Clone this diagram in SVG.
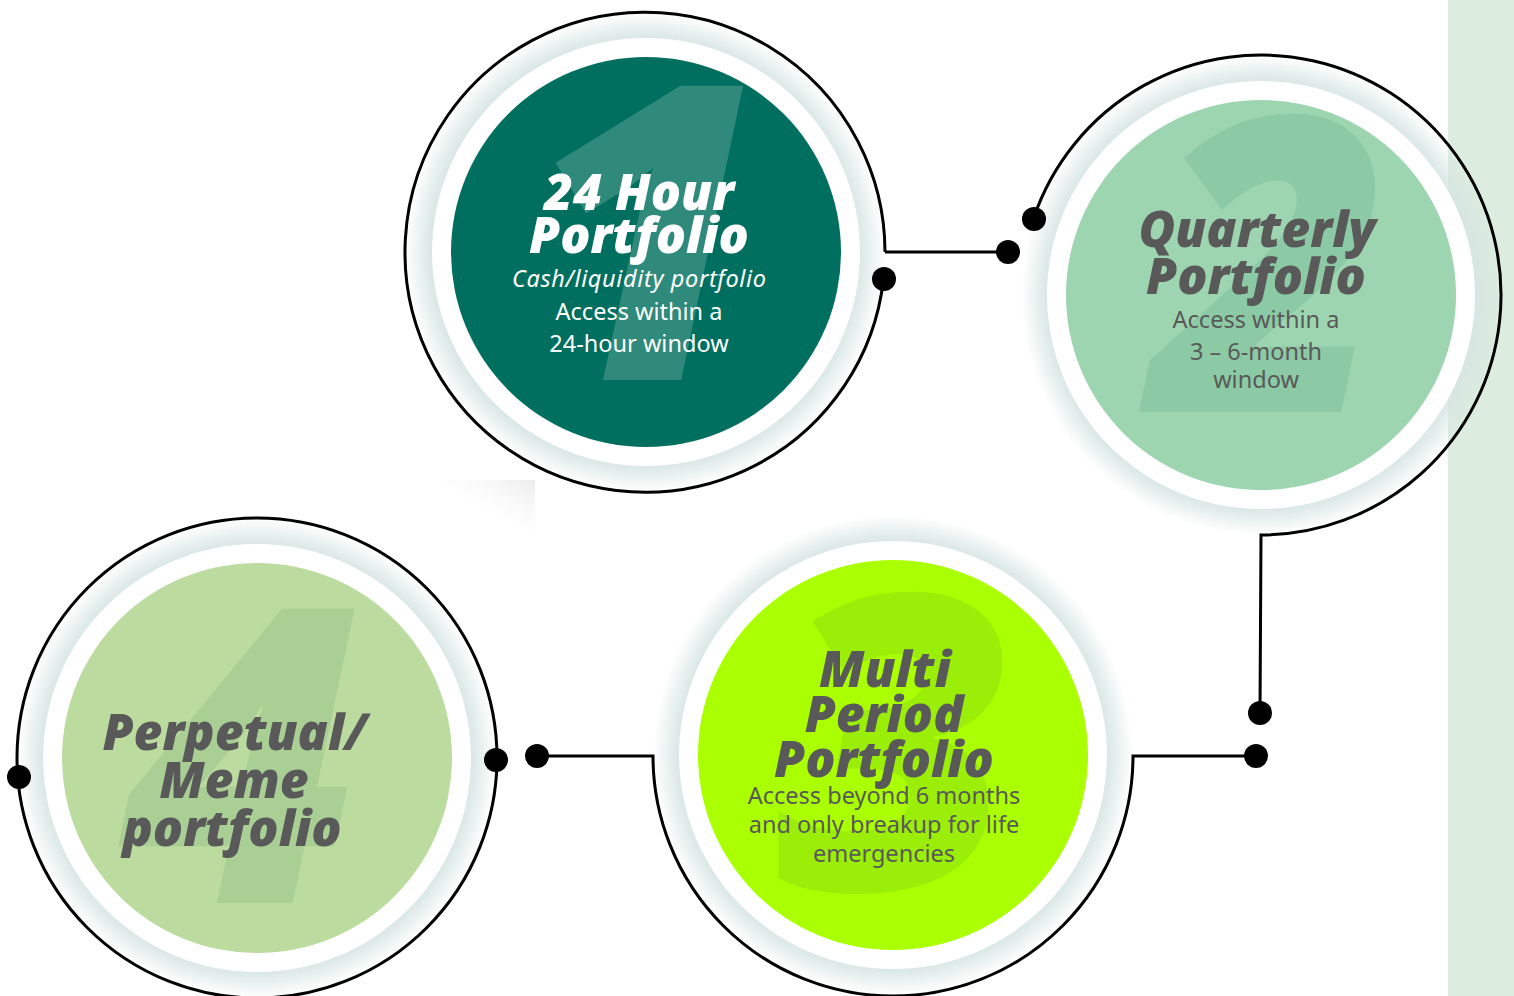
<svg xmlns="http://www.w3.org/2000/svg" width="1514" height="996" viewBox="0 0 1514 996">
  <style>
    .title { font-family: "Noto Sans", "Open Sans", sans-serif; font-weight: 900; font-style: italic; font-size: 50px; text-anchor: middle; }
    .body { font-family: "Noto Sans", "Open Sans", sans-serif; font-weight: 400; font-size: 23.5px; text-anchor: middle; }
    .num { font-family: "Noto Sans", "Open Sans", sans-serif; font-weight: 900; font-style: italic; font-size: 412px; text-anchor: middle; }
    .light { fill: #ffffff; }
    .dark { fill: #595959; }
    .line { fill: none; stroke: #000000; stroke-width: 3; }
    .dot { fill: #000000; }
    .ring { fill: #ffffff; }
  </style>
  <defs>
    <radialGradient id="halo" cx="0.5" cy="0.5" r="0.5">
      <stop offset="0.88" stop-color="#d6e5e2" stop-opacity="1"/>
      <stop offset="1" stop-color="#d6e5e2" stop-opacity="0"/>
    </radialGradient>
    <linearGradient id="smudge" x1="1" y1="0" x2="0" y2="1">
      <stop offset="0" stop-color="#ebebeb"/>
      <stop offset="0.7" stop-color="#ffffff" stop-opacity="0"/>
    </linearGradient>
  </defs>

  <!-- side band -->
  <rect x="1448" y="0" width="66" height="996" fill="#dcecdf"/>
  <rect x="445" y="480" width="90" height="50" fill="url(#smudge)"/>

  <!-- stage 1 -->
  <g id="node-24-hour">
    <circle cx="645" cy="252" r="240" fill="url(#halo)"/>
    <circle class="ring" cx="646" cy="252" r="214"/>
    <circle cx="646" cy="252" r="195" fill="#006f5f"/>
    <text class="num" x="645" y="380" fill="#2f8a7c">1</text>
    <text class="title light" x="639" y="210">24 Hour</text>
    <text class="title light" x="639" y="253">Portfolio</text>
    <text class="body light" x="639" y="287" font-style="italic" font-size="24" textLength="254" lengthAdjust="spacing">Cash/liquidity portfolio</text>
    <text class="body light" x="639" y="320" font-size="24">Access within a</text>
    <text class="body light" x="639" y="352" font-size="24">24-hour window</text>
  </g>

  <!-- stage 2 -->
  <g id="node-quarterly">
    <circle cx="1261" cy="295" r="240" fill="url(#halo)"/>
    <circle class="ring" cx="1261" cy="295" r="214"/>
    <circle cx="1261" cy="295" r="195" fill="#9dd5b0"/>
    <text class="num" x="1270" y="412" fill="#8ccaa6">2</text>
    <text class="title dark" x="1257" y="247">Quarterly</text>
    <text class="title dark" x="1256" y="294">Portfolio</text>
    <text class="body dark" x="1256" y="328">Access within a</text>
    <text class="body dark" x="1256" y="360">3 – 6-month</text>
    <text class="body dark" x="1256" y="388">window</text>
  </g>

  <!-- stage 3 -->
  <g id="node-multi-period">
    <circle cx="893" cy="755" r="240" fill="url(#halo)"/>
    <circle class="ring" cx="893" cy="755" r="214"/>
    <circle cx="893" cy="755" r="195" fill="#aaff00"/>
    <text class="num" x="895" y="890" fill="#9aee08">3</text>
    <text class="title dark" x="885" y="687">Multi</text>
    <text class="title dark" x="884" y="732">Period</text>
    <text class="title dark" x="884" y="777">Portfolio</text>
    <text class="body dark" x="884" y="804">Access beyond 6 months</text>
    <text class="body dark" x="884" y="833">and only breakup for life</text>
    <text class="body dark" x="884" y="862">emergencies</text>
  </g>

  <!-- stage 4 -->
  <g id="node-perpetual">
    <circle cx="257" cy="758" r="240" fill="url(#halo)"/>
    <circle class="ring" cx="257" cy="758" r="214"/>
    <circle cx="257" cy="758" r="195" fill="#bcdb9f"/>
    <text class="num" x="240" y="903" fill="#aacf95">4</text>
    <text class="title dark" x="235" y="750">Perpetual/</text>
    <text class="title dark" x="234" y="798">Meme</text>
    <text class="title dark" x="232" y="846">portfolio</text>
  </g>

  <!-- connectors -->
  <g id="connectors">
    <path class="line" d="M885 252 A240 240 0 1 0 883.5 279"/>
    <path class="line" d="M885 252 H1008"/>
    <circle class="dot" cx="1008" cy="252" r="12"/>
    <circle class="dot" cx="884" cy="279" r="12"/>

    <path class="line" d="M1033.7 218 A240 240 0 1 1 1261 535 L1260 713"/>
    <circle class="dot" cx="1034" cy="219" r="12"/>
    <circle class="dot" cx="1260" cy="713" r="12"/>

    <path class="line" d="M537 756 H653 A240 240 0 0 0 1133 756 H1256"/>
    <circle class="dot" cx="537" cy="756" r="12"/>
    <circle class="dot" cx="1256" cy="756" r="12"/>

    <circle class="line" cx="257" cy="758" r="240"/>
    <circle class="dot" cx="19" cy="777" r="12"/>
    <circle class="dot" cx="496" cy="760" r="12"/>
  </g>
</svg>
